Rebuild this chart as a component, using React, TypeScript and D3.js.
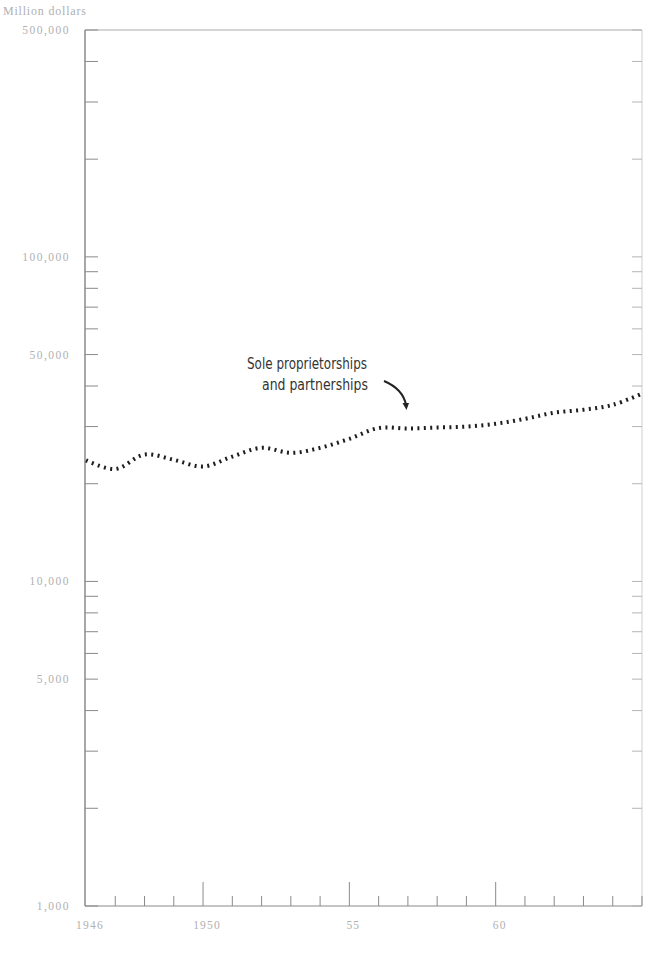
import React from "react";
import * as d3 from "d3";

const years = [1946, 1947, 1948, 1949, 1950, 1951, 1952, 1953, 1954, 1955, 1956, 1957, 1958, 1959, 1960, 1961, 1962, 1963, 1964, 1965];
const soleProp = [23600, 22200, 24600, 23700, 22600, 24250, 25800, 24900, 25800, 27500, 29700, 29600, 29800, 30000, 30600, 31700, 33100, 33800, 35000, 37900];
const yTickValues = [1000, 2000, 3000, 4000, 5000, 6000, 7000, 8000, 9000, 10000, 20000, 30000, 40000, 50000, 60000, 70000, 80000, 90000, 100000, 200000, 300000, 400000, 500000];
const yLabels = [
  { v: 500000, t: "500,000" },
  { v: 100000, t: "100,000" },
  { v: 50000, t: "50,000" },
  { v: 10000, t: "10,000" },
  { v: 5000, t: "5,000" },
  { v: 1000, t: "1,000" },
];
const xTickYears = d3.range(1947, 1966);
const majorYears = [1950, 1955, 1960];
const xLabels = [
  { y: 1946, t: "1946" },
  { y: 1950, t: "1950" },
  { y: 1955, t: "55" },
  { y: 1960, t: "60" },
];

export default function App() {
  const W = 648, H = 978;
  const x = d3.scaleLinear().domain([1946, 1965]).range([86, 642]);
  const y = d3.scaleLog().domain([1000, 500000]).range([906, 30]);
  const line = d3
    .line<number>()
    .x((_, i) => x(years[i]))
    .y((d) => y(d))
    .curve(d3.curveCatmullRom);
  const axisColor = "#8a8a8a";
  const labelColor = "#b0b0b0";
  const labelFont = "'Liberation Serif', serif";
  return (
    <svg width={W} height={H} style={{ position: "absolute", left: 0, top: 0, background: "#fff" }}>
      <text x={3} y={15} fontSize={12} letterSpacing={0.8} fill={labelColor} fontFamily={labelFont}>Million dollars</text>
      {/* frame */}
      <line x1={85} y1={y(500000)} x2={642} y2={y(500000)} stroke="#aaa" strokeWidth={1} />
      <line x1={85} y1={y(500000)} x2={85} y2={y(1000)} stroke={axisColor} strokeWidth={1.5} />
      <line x1={642} y1={y(500000)} x2={642} y2={y(1000)} stroke="#cfcfcf" strokeWidth={1} />
      <line x1={85} y1={y(1000)} x2={642} y2={y(1000)} stroke={axisColor} strokeWidth={1.2} />
      {/* y ticks */}
      {yTickValues.map((v) => (
        <g key={v}>
          <line x1={85} x2={98} y1={y(v)} y2={y(v)} stroke={axisColor} strokeWidth={1} />
          <line x1={632} x2={642} y1={y(v)} y2={y(v)} stroke="#b5b5b5" strokeWidth={1} />
        </g>
      ))}
      {yLabels.map((l) => (
        <text key={l.v} x={70} y={y(l.v) + 4} fontSize={11.5} letterSpacing={1.5} fill={labelColor} textAnchor="end" fontFamily={labelFont}>{l.t}</text>
      ))}
      {/* x ticks */}
      {xTickYears.map((yr) => (
        <line key={yr} x1={x(yr)} x2={x(yr)} y1={y(1000)} y2={y(1000) - (majorYears.includes(yr) ? 24 : 10)} stroke={axisColor} strokeWidth={1} />
      ))}
      {xLabels.map((l) => (
        <text key={l.y} x={x(l.y) + 4} y={929} fontSize={11.5} letterSpacing={1.2} fill={labelColor} textAnchor="middle" fontFamily={labelFont}>{l.t}</text>
      ))}
      {/* data */}
      <path d={line(soleProp) || ""} fill="none" stroke="#1e1e1e" strokeWidth={4} strokeDasharray="2 4.4" />
      {/* annotation */}
      <text x={367} y={369} fontSize={15} fill="#333" textAnchor="end" fontFamily="'DejaVu Sans', sans-serif" textLength={120} lengthAdjust="spacingAndGlyphs">Sole proprietorships</text>
      <text x={368} y={390} fontSize={15} fill="#333" textAnchor="end" fontFamily="'DejaVu Sans', sans-serif" textLength={106} lengthAdjust="spacingAndGlyphs">and partnerships</text>
      <path d="M384,381 Q403,389 406,405" fill="none" stroke="#222" strokeWidth={2} />
      <path d="M402.5,403 L406.5,410 L409,403 Z" fill="#222" />
    </svg>
  );
}
